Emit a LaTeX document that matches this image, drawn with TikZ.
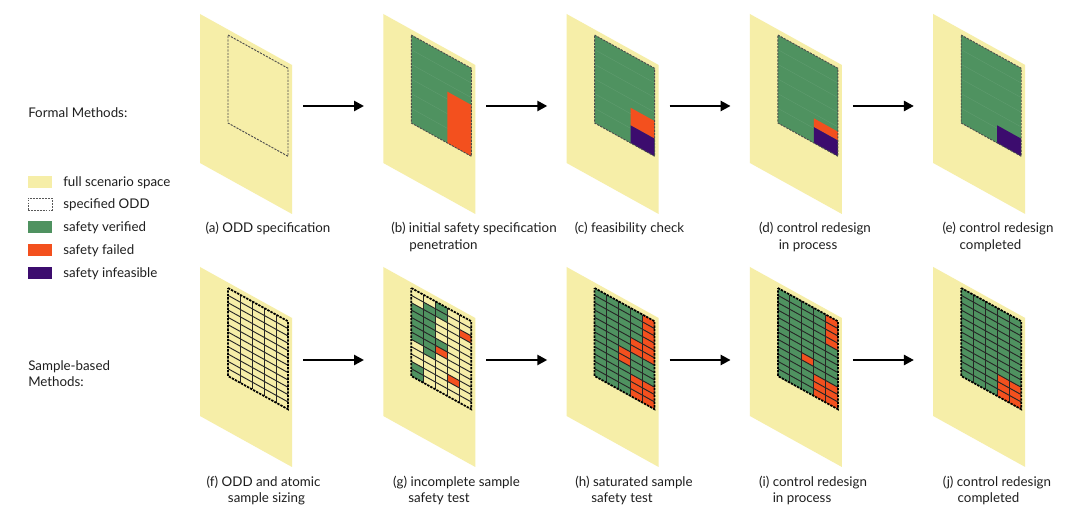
\documentclass[tikz,border=0pt]{standalone}
\usepackage{fontspec}
\setmainfont{Lato}
\usetikzlibrary{arrows.meta}
\definecolor{scen}{HTML}{F6EEA8}
\definecolor{okgreen}{HTML}{4F9260}
\definecolor{failred}{HTML}{F3501E}
\definecolor{infpurple}{HTML}{3C0C6E}
\definecolor{txt}{HTML}{1E1E1E}
\newcommand\pnlBase{\fill[scen] (0,0) -- (92,0) -- (92,149) -- (0,149) -- cycle;}
\newcommand\pnlOdd[1]{\fill[#1] (28,5.5) -- (88,5.5) -- (88,93.5) -- (28,93.5) -- cycle;}
\newcommand\pnlRegion[4]{\fill[#1] (#2,#3) -- (88,#3) -- (88,#4) -- (#2,#4) -- cycle;}
\newcommand\pnlBorder{\draw[oddline] (28,5.5) -- (88,5.5) -- (88,93.5) -- (28,93.5) -- cycle;}
\newcommand\pnlHatch{\foreach \k in {1,...,5}{\draw[hatchline] (28,{5.5+14.6667*\k}) -- (88,{5.5+14.6667*\k});}}
\newcommand\pnlCells[2]{\foreach \c/\r in {#2}{\fill[#1] ({28+12*\c},{5.5+7.3333*\r}) -- ++(12,0) -- ++(0,7.3333) -- ++(-12,0) -- cycle;}}
\newcommand\pnlGrid{%
  \foreach \c in {1,...,4}{\draw[gridline] ({28+12*\c},5.5) -- ++(0,88);}
  \foreach \r in {1,...,11}{\draw[gridline] (28,{5.5+7.3333*\r}) -- ++(60,0);}
  \draw[gridborder] (28,5.5) -- (88,5.5) -- (88,93.5) -- (28,93.5) -- cycle;}
\tikzset{
  panel/.style 2 args={shift={(#1,#2)}, x={(0.75pt,-0.41573pt)}, y={(0pt,-0.75pt)}},
  oddline/.style={draw=black!70, line width=0.7pt, dash pattern=on 1.6pt off 0.9pt},
  hatchline/.style={draw=okgreen!70!white, line width=0.3pt, opacity=0.3},
  gridline/.style={draw=black!85, line width=0.7pt},
  gridborder/.style={draw=black, line width=1.3pt, dash pattern=on 1.8pt off 0.8pt},
  flow/.style={-{Triangle[length=7.5pt,width=7.5pt]}, line width=1.9pt, black},
  captxt/.style={anchor=base, text=txt, inner sep=0pt},
  lbl/.style={anchor=base west, text=txt, inner sep=0pt},
  swatch/.style={minimum width=18pt, minimum height=9pt, inner sep=0pt}
}
\begin{document}
\begin{tikzpicture}[x=0.75pt, y=-0.75pt, font=\fontsize{10}{12}\selectfont]
\useasboundingbox[fill=white] (0,0) rectangle (1080,530);

% ---------- top row: formal methods ----------
\begin{scope}[panel={200}{14}]
  \pnlBase \pnlBorder
\end{scope}
\begin{scope}[panel={383.3}{14}]
  \pnlBase \pnlOdd{okgreen} \pnlHatch
  \pnlRegion{failred}{64}{42.17}{93.5}
  \pnlBorder
\end{scope}
\begin{scope}[panel={566.6}{14}]
  \pnlBase \pnlOdd{okgreen} \pnlHatch
  \pnlRegion{failred}{64}{58.3}{75.9}
  \pnlRegion{infpurple}{64}{75.9}{93.5}
  \pnlBorder
\end{scope}
\begin{scope}[panel={749.9}{14}]
  \pnlBase \pnlOdd{okgreen} \pnlHatch
  \pnlRegion{failred}{64}{68.9}{77.7}
  \pnlRegion{infpurple}{64}{77.7}{93.5}
  \pnlBorder
\end{scope}
\begin{scope}[panel={933.2}{14}]
  \pnlBase \pnlOdd{okgreen} \pnlHatch
  \pnlRegion{infpurple}{64}{75.9}{93.5}
  \pnlBorder
\end{scope}

% ---------- bottom row: sample-based ----------
\begin{scope}[panel={200}{267}]
  \pnlBase \pnlGrid
\end{scope}
\begin{scope}[panel={383.3}{267}]
  \pnlBase
  \pnlCells{okgreen}{0/2,0/3,0/4,0/5,0/6,0/10,0/11,1/1,1/2,1/3,1/4,1/5,1/6,1/7,2/0,2/1,2/5}
  \pnlCells{failred}{2/6,3/9,4/2}
  \pnlGrid
\end{scope}
\begin{scope}[panel={566.6}{267}]
  \pnlBase \pnlOdd{okgreen}
  \pnlCells{failred}{4/0,4/1,4/2,4/3,4/4,4/5,3/4,3/5,2/6,2/7,3/9,3/10,3/11,4/9,4/10,4/11}
  \pnlGrid
\end{scope}
\begin{scope}[panel={749.9}{267}]
  \pnlBase \pnlOdd{okgreen}
  \pnlCells{failred}{4/0,4/1,4/2,4/3,2/7,3/9,3/10,3/11,4/9,4/10,4/11}
  \pnlGrid
\end{scope}
\begin{scope}[panel={933.2}{267}]
  \pnlBase \pnlOdd{okgreen}
  \pnlCells{failred}{3/9,3/10,3/11,4/9,4/10,4/11}
  \pnlGrid
\end{scope}

% ---------- arrows ----------
\foreach \k in {0,1,2,3}{
  \coordinate (t\k o) at ({303+183.3*\k},106);
  \coordinate (t\k i) at ({364+183.3*\k},106);
  \coordinate (b\k o) at ({303+183.3*\k},360);
  \coordinate (b\k i) at ({364+183.3*\k},360);
}
\foreach \k in {0,1,2,3}{
  \draw[flow] (t\k o) -- (t\k i);
  \draw[flow] (b\k o) -- (b\k i);
}

% ---------- row labels ----------
\node[lbl] (formal) at (28,118) {Formal Methods:};
\node[lbl] (sample1) at (28,371) {Sample-based};
\node[lbl] (sample2) at (28,387) {Methods:};

% ---------- legend ----------
\node[swatch, fill=scen] (sw1) at (40,182) {};
\node[swatch, fill=white, draw=black!65, line width=0.6pt, dash pattern=on 1.4pt off 0.8pt] (sw2) at (40,204) {};
\node[swatch, fill=okgreen] (sw3) at (40,227) {};
\node[swatch, fill=failred] (sw4) at (40,250) {};
\node[swatch, fill=infpurple] (sw5) at (40,273) {};
\node[lbl] (lg1) at (63,186.5) {full scenario space};
\node[lbl] (lg2) at (63,208.5) {specified ODD};
\node[lbl] (lg3) at (63,231.5) {safety verified};
\node[lbl] (lg4) at (63,254.5) {safety failed};
\node[lbl] (lg5) at (63,277.5) {safety infeasible};

% ---------- captions ----------
\node[captxt] (ca) at (268,233) {(a) ODD specification};
\node[captxt] (cb1) at (474,233) {(b) initial safety specification};
\node[captxt] (cb2) at (443.5,250) {penetration};
\node[captxt] (cc) at (629.5,233) {(c) feasibility check};
\node[captxt] (cd1) at (815,233) {(d) control redesign};
\node[captxt] (cd2) at (808,250) {in process};
\node[captxt] (ce1) at (998,233) {(e) control redesign};
\node[captxt] (ce2) at (990.5,250) {completed};

\node[captxt] (cf1) at (263.5,486) {(f) ODD and atomic};
\node[captxt] (cf2) at (266.5,502) {sample sizing};
\node[captxt] (cg1) at (456.5,486) {(g) incomplete sample};
\node[captxt] (cg2) at (439,502) {safety test};
\node[captxt] (ch1) at (634,486) {(h) saturated sample};
\node[captxt] (ch2) at (622,502) {safety test};
\node[captxt] (ci1) at (813,486) {(i) control redesign};
\node[captxt] (ci2) at (802,502) {in process};
\node[captxt] (cj1) at (997,486) {(j) control redesign};
\node[captxt] (cj2) at (988.5,502) {completed};
\end{tikzpicture}
\end{document}
